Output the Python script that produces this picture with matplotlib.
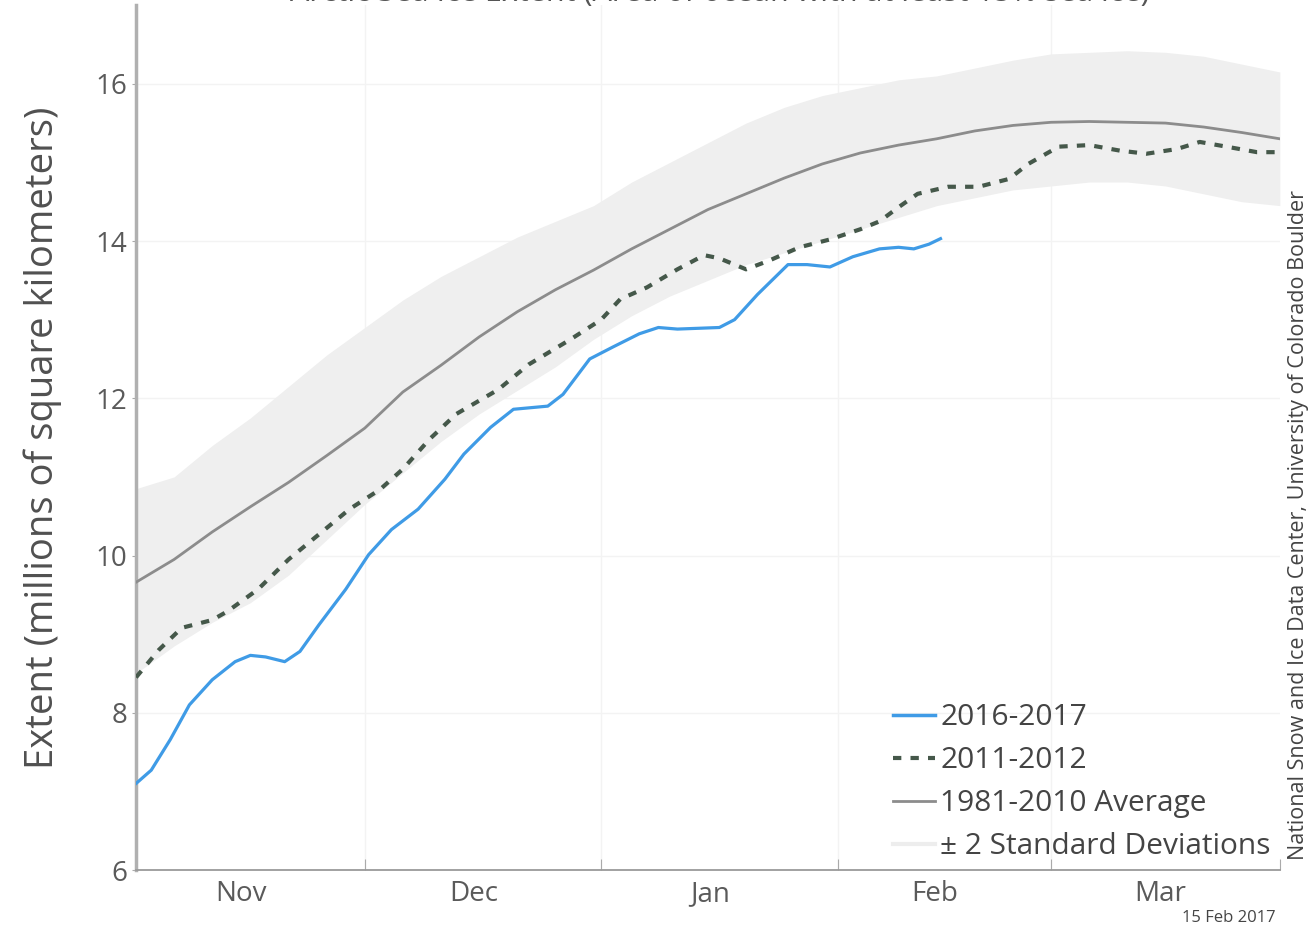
import matplotlib
matplotlib.use("Agg")
import matplotlib.pyplot as plt
from matplotlib.lines import Line2D

plt.rcParams['font.family'] = ['Open Sans', 'DejaVu Sans']

# ---- data (day 0 = 1 Nov) ----
month_starts = [0, 30, 61, 92, 120, 151]
month_labels = ['Nov', 'Dec', 'Jan', 'Feb', 'Mar']

band_days = [0, 5, 10, 15, 20, 25, 30, 35, 40, 45, 50, 55, 60, 65, 70, 75,
             80, 85, 90, 95, 100, 105, 110, 115, 120, 125, 130, 135, 140, 145, 150]
band_upper = [10.85, 11.0, 11.4, 11.75, 12.15, 12.55, 12.9, 13.25, 13.55, 13.8,
              14.05, 14.25, 14.45, 14.75, 15.0, 15.25, 15.5, 15.7, 15.85, 15.95,
              16.05, 16.1, 16.2, 16.3, 16.38, 16.4, 16.42, 16.4, 16.35, 16.25, 16.15]
band_lower = [8.5, 8.85, 9.15, 9.4, 9.75, 10.2, 10.65, 11.05, 11.45, 11.8,
              12.1, 12.4, 12.75, 13.05, 13.3, 13.5, 13.7, 13.85, 14.0, 14.15,
              14.3, 14.45, 14.55, 14.65, 14.7, 14.75, 14.75, 14.7, 14.6, 14.5, 14.45]
avg_values = [9.66, 9.95, 10.3, 10.62, 10.93, 11.27, 11.62, 12.08, 12.42, 12.78,
              13.1, 13.38, 13.63, 13.9, 14.15, 14.4, 14.6, 14.8, 14.98, 15.12,
              15.22, 15.3, 15.4, 15.47, 15.51, 15.52, 15.51, 15.5, 15.45, 15.38, 15.3]

days_2011 = [0, 3, 6, 10, 12, 16, 20, 24, 28, 32, 35, 38.5, 42, 47.5, 51.5, 57,
             61, 63.5, 67, 71, 74.5, 76.5, 80, 83, 87, 91, 95, 97.5, 100, 102.5,
             106.5, 110.5, 114.5, 117, 121, 125, 129, 132.5, 136.5, 139.5, 143, 147, 150]
ext_2011 = [8.45, 8.8, 9.08, 9.18, 9.29, 9.57, 9.95, 10.27, 10.59, 10.84, 11.1,
            11.48, 11.8, 12.11, 12.43, 12.75, 13.0, 13.26, 13.41, 13.64, 13.82,
            13.78, 13.64, 13.75, 13.92, 14.02, 14.15, 14.25, 14.43, 14.6, 14.69,
            14.69, 14.79, 14.98, 15.2, 15.22, 15.15, 15.11, 15.17, 15.26, 15.2,
            15.13, 15.13]

days_2016 = [0, 2, 4.5, 7, 10, 13, 15, 17, 19.5, 21.5, 24, 27.5, 30.5, 33.5, 37,
             40.5, 43, 46.5, 49.5, 54, 56, 59.5, 62.5, 66, 68.5, 71, 76.5, 78.5,
             81.5, 85.5, 88, 91, 94, 97.5, 100, 102, 104, 105.5]
ext_2016 = [7.1, 7.27, 7.66, 8.1, 8.42, 8.65, 8.73, 8.71, 8.65, 8.78, 9.12, 9.57,
            10.01, 10.33, 10.59, 10.97, 11.29, 11.63, 11.86, 11.9, 12.05, 12.5,
            12.65, 12.82, 12.9, 12.88, 12.9, 13.0, 13.32, 13.7, 13.7, 13.67, 13.8,
            13.9, 13.92, 13.9, 13.96, 14.03]

yticks = [6, 8, 10, 12, 14, 16]

# ---- figure ----
fig = plt.figure(figsize=(13.14, 9.34), dpi=100)
ax = fig.add_axes([0.1035, 0.0685, 0.8705, 0.926])

ax.fill_between(band_days, band_lower, band_upper, color='#efefef', lw=0, zorder=1)
ax.plot(band_days, avg_values, color='#8c8c8c', lw=2.0, zorder=3)
ax.plot(days_2011, ext_2011, color='#45584a', lw=3.0, dashes=(2.0, 2.2), zorder=4)
ax.plot(days_2016, ext_2016, color='#3f9be6', lw=2.3, zorder=5)

ax.set_xlim(0, 150)
ax.set_ylim(6, 17)

# grid at month boundaries and even values
for d in month_starts[1:-1]:
    ax.axvline(d, color='#f3f3f3', lw=1, zorder=0)
for v in yticks[1:]:
    ax.axhline(v, color='#f3f3f3', lw=1, zorder=0)

ax.set_xticks(month_starts[:-1] + [150])
ax.set_xticklabels([])
# labels sit a little left of the month centre in the original
mids = [(month_starts[i] + month_starts[i + 1]) / 2 - 1.2 for i in range(5)]
ax.set_xticks(mids, minor=True)
ax.set_xticklabels(month_labels, minor=True)
ax.tick_params(axis='x', which='major', direction='in', length=8, color='#aaaaaa')
ax.tick_params(axis='x', which='minor', length=0, pad=7, labelsize=20, labelcolor='#5a5a5a')

ax.set_yticks(yticks)
ax.tick_params(axis='y', direction='out', length=3, color='#aaaaaa', labelsize=20,
               labelcolor='#5a5a5a', pad=3)

ax.set_ylabel('Extent (millions of square kilometers)', fontsize=27.5, color='#505050', labelpad=24)

for s in ['top', 'right']:
    ax.spines[s].set_visible(False)
ax.spines['left'].set_color('#b0b0b0')
ax.spines['left'].set_linewidth(2.5)
ax.spines['bottom'].set_color('#9a9a9a')
ax.spines['bottom'].set_linewidth(1.3)

handles = [
    Line2D([], [], color='#3f9be6', lw=2.5),
    Line2D([], [], color='#45584a', lw=3.0, dashes=(2.0, 2.2)),
    Line2D([], [], color='#8c8c8c', lw=2.0),
    Line2D([], [], color='#ededed', lw=3.0),
]
labels = ['2016-2017', '2011-2012', '1981-2010 Average', '± 2 Standard Deviations']
leg = ax.legend(handles, labels, loc='lower right', frameon=False, fontsize=21.5,
                handlelength=1.4, handletextpad=0.17, labelspacing=0.47,
                borderaxespad=0.2, borderpad=0.1)
for t in leg.get_texts():
    t.set_color('#444444')

fig.text(0.988, 0.438, 'National Snow and Ice Data Center, University of Colorado Boulder',
         rotation=90, ha='center', va='center', fontsize=15.5, color='#444444')
fig.text(0.971, 0.017, '15 Feb 2017', ha='right', va='center', fontsize=12, color='#444444')

# title of the original is cut off at the top edge, only its lower rim shows
fig.text(0.548, 0.999, 'Arctic Sea Ice Extent (Area of ocean with at least 15% sea ice)',
         ha='center', va='baseline', fontsize=22, color='#555555')

fig.savefig('out.png', dpi=100)
